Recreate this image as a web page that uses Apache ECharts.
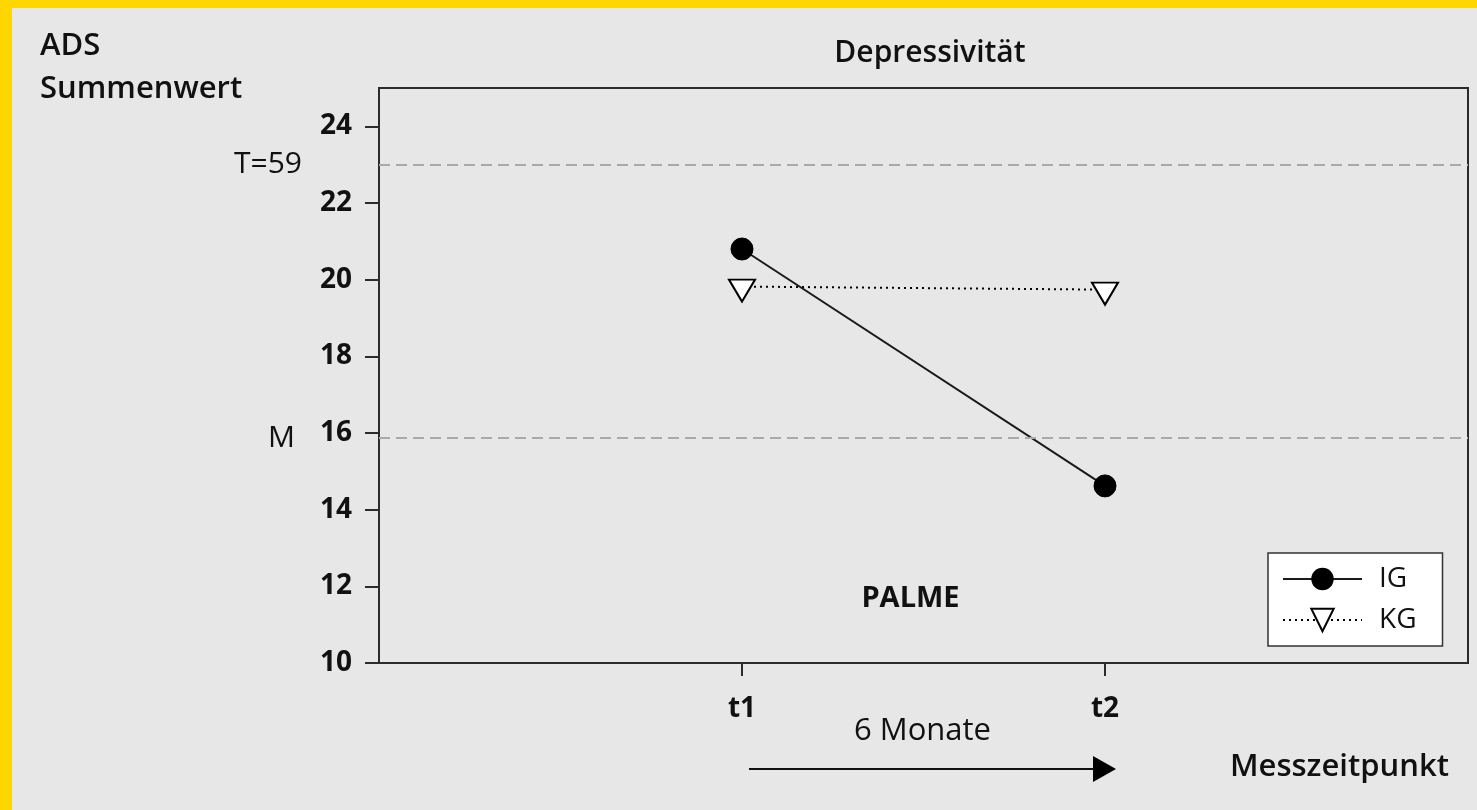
<!DOCTYPE html>
<html>
<head>
<meta charset="utf-8">
<script src="https://cdn.jsdelivr.net/npm/echarts@6/dist/echarts.min.js"></script>
<style>
  html, body { margin: 0; padding: 0; background: #ffd600; }
  #chart { position: absolute; left: 12px; top: 8px; width: 1465px; height: 802px; background: #e7e7e7; }
</style>
</head>
<body>
<div id="chart"></div>
<script>
// Messzeitpunkte
const categories = ['t1', 't2']
const catPos = [1, 2]
// ADS Summenwert
const igValues = [20.8, 14.62]
const kgValues = [19.82, 19.74]
const yTicks = [10, 12, 14, 16, 18, 20, 22, 24]
// Referenzlinien
const refLines = [
  { name: 'T=59', value: 23.0, dist: 77 },
  { name: 'M', value: 15.87, dist: 84 }
]

const FONT = '"Open Sans", "DejaVu Sans", sans-serif'
const INK = '#111'

function pairs(vals) {
  let tempArray = []
  for (let i = 0; i < vals.length; i++) {
    tempArray.push([catPos[i], vals[i]])
  }
  return tempArray
}

const chart = echarts.init(document.getElementById('chart'))

const option = {
  animation: false,
  textStyle: { fontFamily: FONT, color: INK },
  title: {
    text: 'Depressivität',
    left: 913,
    top: 25,
    textAlign: 'center',
    textStyle: { fontFamily: FONT, fontSize: 30, fontWeight: 600, color: INK }
  },
  grid: {
    left: 367,
    right: 9,
    top: 80,
    bottom: 147,
    show: true,
    borderColor: '#2b2b2b',
    borderWidth: 2,
    backgroundColor: 'transparent'
  },
  legend: {
    orient: 'vertical',
    left: 1256,
    top: 545,
    backgroundColor: '#fff',
    borderColor: '#333',
    borderWidth: 1.5,
    borderRadius: 0,
    padding: [12, 26, 12, 14],
    itemWidth: 79,
    itemHeight: 28,
    itemGap: 13,
    textStyle: { fontFamily: FONT, fontSize: 28, color: INK, padding: [0, 0, 0, 12] },
    data: ['IG', 'KG']
  },
  xAxis: {
    type: 'value',
    min: 0,
    max: 3,
    splitLine: { show: false },
    axisLine: { show: true, lineStyle: { color: '#2b2b2b', width: 2 } },
    axisTick: { show: true, length: 13, customValues: catPos, lineStyle: { color: '#2b2b2b', width: 2 } },
    axisLabel: {
      customValues: catPos,
      margin: 32,
      fontFamily: FONT,
      fontSize: 28,
      fontWeight: 700,
      color: INK,
      formatter: function(v) {
        const idx = catPos.indexOf(v)
        return idx >= 0 ? categories[idx] : ''
      }
    }
  },
  yAxis: {
    type: 'value',
    min: 10,
    max: 25,
    splitLine: { show: false },
    axisLine: { show: true, lineStyle: { color: '#2b2b2b', width: 2 } },
    axisTick: { show: true, length: 14, customValues: yTicks, lineStyle: { color: '#2b2b2b', width: 2 } },
    axisLabel: {
      customValues: yTicks,
      margin: 27,
      fontFamily: FONT,
      fontSize: 28,
      fontWeight: 700,
      color: INK
    }
  },
  series: [
    {
      name: 'IG',
      type: 'line',
      data: pairs(igValues),
      symbol: 'circle',
      symbolSize: 22,
      itemStyle: { color: '#000', borderColor: '#000' },
      lineStyle: { color: '#1a1a1a', width: 2 },
      z: 3,
      markLine: {
        silent: true,
        symbol: 'none',
        lineStyle: { color: '#a9a9a9', type: [11, 6], width: 2 },
        data: refLines.map(function(r) {
          return {
            yAxis: r.value,
            label: {
              show: true,
              position: 'start',
              distance: r.dist,
              formatter: r.name,
              fontFamily: FONT,
              fontSize: 30,
              color: INK
            }
          }
        })
      }
    },
    {
      name: 'KG',
      type: 'line',
      data: pairs(kgValues),
      symbol: 'triangle',
      symbolRotate: 180,
      symbolSize: [26, 22],
      symbolOffset: [0, 4],
      itemStyle: { color: '#fff', borderColor: '#000', borderWidth: 2 },
      lineStyle: { color: '#000', width: 2, type: [2, 4] },
      z: 2
    }
  ]
}

chart.setOption(option)

// Beschriftungen und Zeitpfeil
const x1 = chart.convertToPixel({ gridIndex: 0 }, [catPos[0], 10])[0]
const x2 = chart.convertToPixel({ gridIndex: 0 }, [catPos[1], 10])[0]
const arrowY = 761

chart.setOption({
  graphic: [
    {
      type: 'text', left: 28, top: 23,
      style: { text: 'ADS', font: '600 31px ' + FONT, fill: INK }
    },
    {
      type: 'text', left: 28, top: 66,
      style: { text: 'Summenwert', font: '600 31px ' + FONT, fill: INK }
    },
    {
      type: 'text', x: (x1 + x2) / 2 - 13, y: 591,
      style: { text: 'PALME', font: '700 29px ' + FONT, fill: INK, align: 'center', verticalAlign: 'middle' }
    },
    {
      type: 'text', x: (x1 + x2) / 2 - 1, y: 723,
      style: { text: '6 Monate', font: '400 31px ' + FONT, fill: INK, align: 'center', verticalAlign: 'middle' }
    },
    {
      type: 'line',
      shape: { x1: x1 + 7, y1: arrowY, x2: x2 - 10, y2: arrowY },
      style: { stroke: '#111', lineWidth: 2 }
    },
    {
      type: 'polygon',
      shape: { points: [[x2 - 12, arrowY - 13], [x2 + 11, arrowY], [x2 - 12, arrowY + 13]] },
      style: { fill: '#000' }
    },
    {
      type: 'text', left: 1218, top: 744,
      style: { text: 'Messzeitpunkt', font: '600 31px ' + FONT, fill: INK }
    }
  ]
})
</script>
</body>
</html>
